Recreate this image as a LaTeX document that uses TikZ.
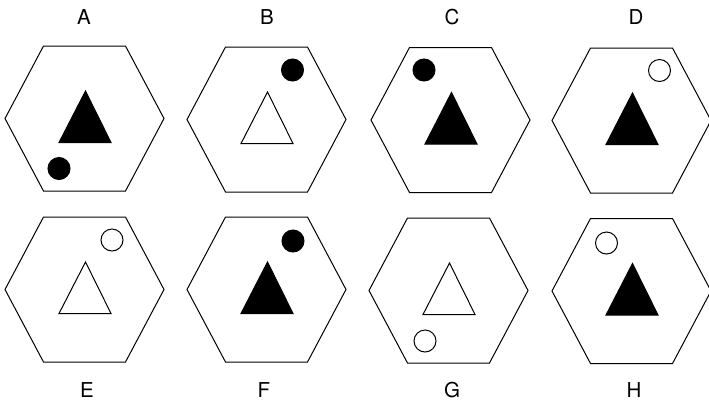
\documentclass[tikz,border=0pt]{standalone}
\usepackage{fontspec}
\setmainfont{TeX Gyre Heros}
\begin{document}
\begin{tikzpicture}[x=1pt,y=-1pt,
  hexline/.style={line width=1pt, line join=miter},
  figline/.style={line width=1pt},
  lab/.style={font=\fontsize{20.5}{20.5}\selectfont, inner sep=0pt}]
\useasboundingbox (0,0) rectangle (709,405);
\foreach \cx/\cy/\lab/\lx/\ly/\tf/\dx/\dy/\cf in {
  84.5/118.5/A/84/17/black/-25.5/50/black,
  266.5/119.5/B/267/17/white/26/-49.5/black,
  450.5/120/C/452/17/black/-26.5/-50/black,
  631.5/120.5/D/636/17/black/28/-50/white,
  84.5/289.5/E/87/390/white/27.5/-49.5/white,
  266.5/289.5/F/264/390/black/26.5/-48.5/black,
  448.5/290.5/G/452/390/white/-23.5/50.5/white,
  631.5/291/H/634/390/black/-25/-48/white}
{
  \draw[hexline] (\cx-79.5,\cy) -- (\cx-41,\cy-72.5) -- (\cx+41,\cy-72.5)
     -- (\cx+79.5,\cy) -- (\cx+41,\cy+72.5) -- (\cx-41,\cy+72.5) -- cycle;
  \filldraw[figline, fill=\tf] (\cx+1,\cy-27.5) -- (\cx+26.5,\cy+24) -- (\cx-25.5,\cy+24) -- cycle;
  \filldraw[figline, fill=\cf] (\cx+\dx,\cy+\dy) circle[radius=11];
  \node[lab] (lab\lab) at (\lx,\ly) {\lab};
}
\end{tikzpicture}
\end{document}
